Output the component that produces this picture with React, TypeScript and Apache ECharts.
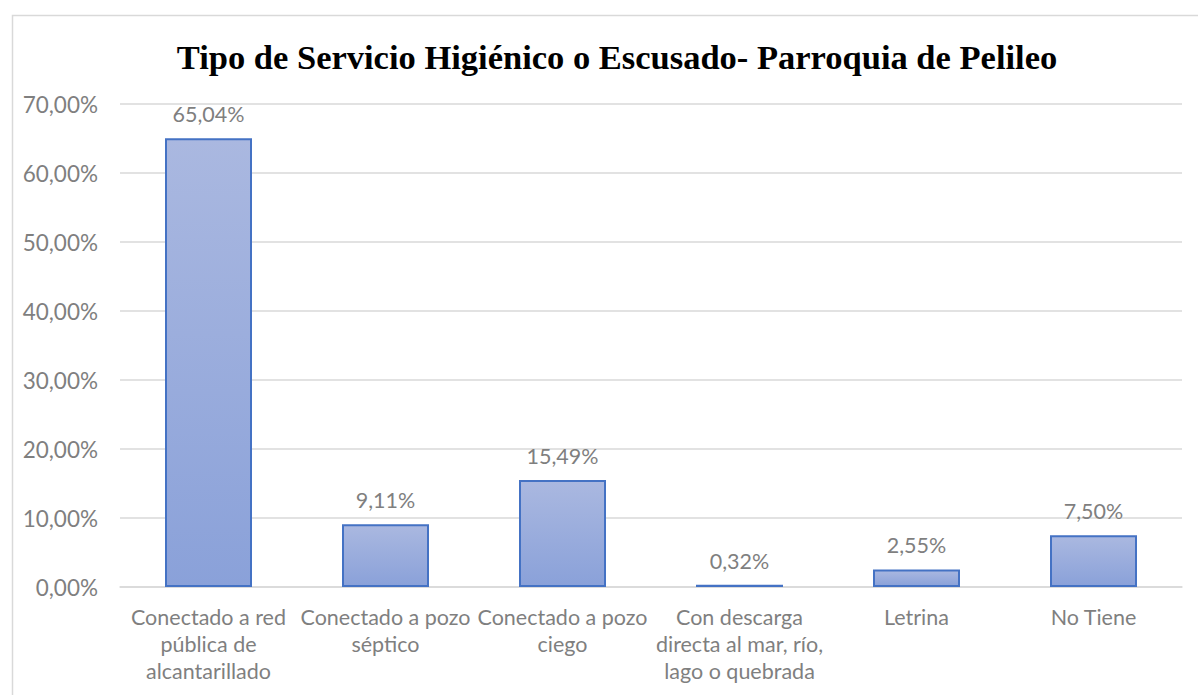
import React, { useEffect, useRef } from "react";
import * as echarts from "echarts";

const categories = [
  "Conectado a red\npública de\nalcantarillado",
  "Conectado a pozo\nséptico",
  "Conectado a pozo\nciego",
  "Con descarga\ndirecta al mar, río,\nlago o quebrada",
  "Letrina",
  "No Tiene",
];
const values = [65.04, 9.11, 15.49, 0.32, 2.55, 7.5];
const yTicks = { min: 0, max: 70, interval: 10 };
const titleText = "Tipo de Servicio Higiénico o Escusado- Parroquia de Pelileo";

const fmt = (v: number) => v.toFixed(2).replace(".", ",") + "%";

export default function App() {
  const ref = useRef<HTMLDivElement>(null);
  useEffect(() => {
    if (!ref.current) return;
    const chart = echarts.init(ref.current, undefined, { renderer: "svg" });
    chart.setOption({
      animation: false,
      backgroundColor: "#ffffff",
      title: {
        text: titleText,
        left: 612,
        top: 34,
        textAlign: "center",
        textStyle: {
          fontFamily: "Liberation Serif",
          fontWeight: "bold",
          fontSize: 34.5,
          color: "#000000",
        },
      },
      graphic: [
        {
          type: "rect",
          shape: { x: 12.5, y: 15.5, width: 1240, height: 720 },
          style: { fill: "none", stroke: "#d9d9d9", lineWidth: 1.5 },
          silent: true,
        },
      ],
      grid: { left: 120, right: 16, top: 104, bottom: 108, containLabel: false },
      xAxis: {
        type: "category",
        data: categories,
        axisTick: { show: false },
        axisLine: { lineStyle: { color: "#d9d9d9", width: 1.5 } },
        axisLabel: {
          interval: 0,
          color: "#7f7f7f",
          fontFamily: "Lato",
          fontSize: 21.5,
          lineHeight: 27,
          margin: 16,
        },
      },
      yAxis: {
        type: "value",
        min: yTicks.min,
        max: yTicks.max,
        interval: yTicks.interval,
        axisLine: { show: false },
        axisTick: { show: false },
        splitLine: { lineStyle: { color: "#d9d9d9", width: 1.5 } },
        axisLabel: {
          color: "#7f7f7f",
          fontFamily: "Lato",
          fontSize: 22.5,
          margin: 22,
          formatter: (v: number) => fmt(v),
        },
      },
      series: [
        {
          type: "bar",
          data: values,
          barWidth: 87,
          itemStyle: {
            color: new echarts.graphic.LinearGradient(0, 0, 0, 1, [
              { offset: 0, color: "#aab8e0" },
              { offset: 1, color: "#8aa1d9" },
            ]),
            borderColor: "#4472c4",
            borderWidth: 2,
          },
          label: {
            show: true,
            position: "top",
            distance: 12,
            color: "#7f7f7f",
            fontFamily: "Lato",
            fontSize: 21.5,
            lineHeight: 24,
            formatter: (p: any) => fmt(p.value),
          },
        },
      ],
    });
    return () => chart.dispose();
  }, []);
  return (
    <div
      ref={ref}
      style={{ position: "fixed", left: 0, top: 0, width: 1198, height: 695 }}
    />
  );
}
